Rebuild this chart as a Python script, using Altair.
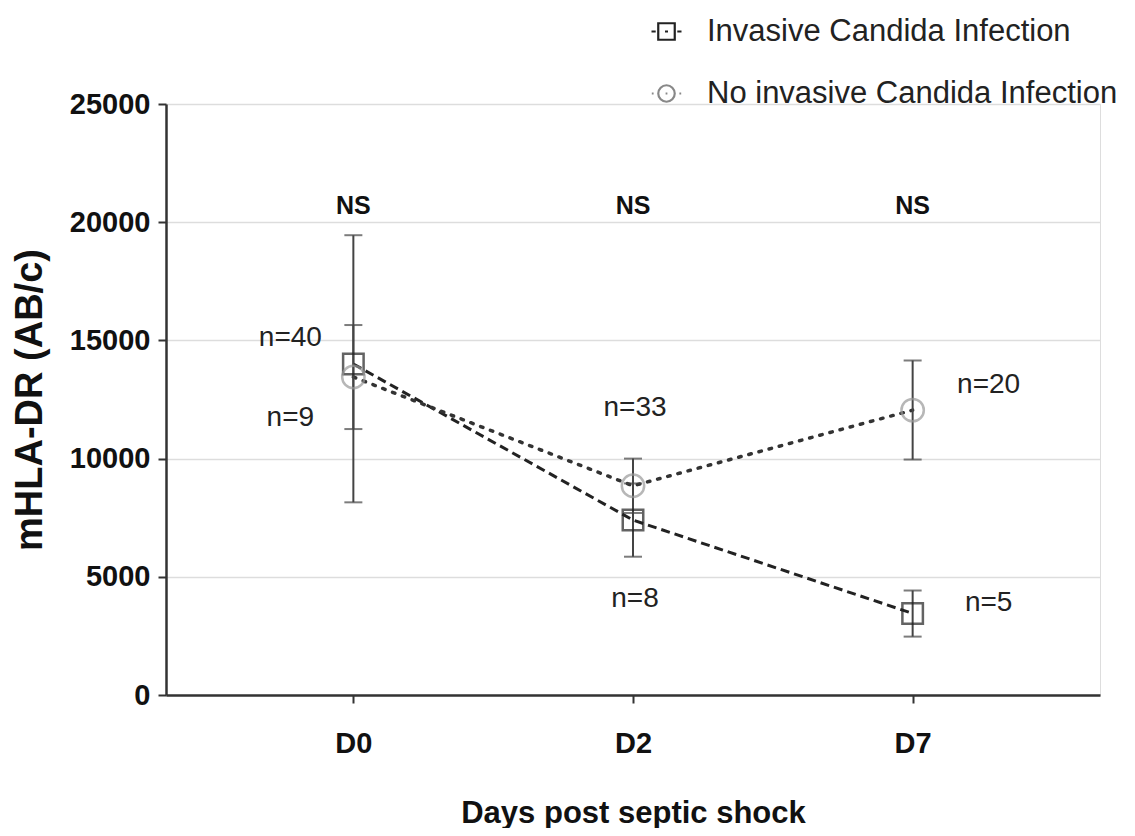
import altair as alt
import pandas as pd

days = ["D0", "D2", "D7"]
series_names = ["Invasive Candida Infection", "No invasive Candida Infection"]

inv_mean = [14000, 7400, 3450]
inv_lo = [8150, 5850, 2470]
inv_hi = [19450, 8950, 4420]

no_mean = [13450, 8850, 12050]
no_lo = [11250, 7700, 9960]
no_hi = [15650, 10000, 14150]

ns_labels = ["NS", "NS", "NS"]
ns_y = [20700, 20700, 20700]

n_left_day = ["D0", "D0"]
n_left_text = ["n=40", "n=9"]
n_left_y = [15100, 11700]
n_mid_day = ["D2", "D2"]
n_mid_text = ["n=33", "n=8"]
n_mid_y = [12150, 4050]
n_right_day = ["D7", "D7"]
n_right_text = ["n=20", "n=5"]
n_right_y = [13100, 3900]

rows = []
for i, d in enumerate(days):
    rows.append({"day": d, "series": series_names[0], "mean": inv_mean[i], "lo": inv_lo[i], "hi": inv_hi[i]})
    rows.append({"day": d, "series": series_names[1], "mean": no_mean[i], "lo": no_lo[i], "hi": no_hi[i]})
df = pd.DataFrame(rows)
inv_df = df[df.series == series_names[0]]
no_df = df[df.series == series_names[1]]

FONT = "Liberation Sans"

x_axis = alt.Axis(
    title="Days post septic shock", labelAngle=0, labelFont=FONT, labelFontSize=29,
    labelFontWeight="bold", labelColor="#111", titleFont=FONT, titleFontSize=31,
    titleFontWeight="bold", titleColor="#111", tickSize=8, tickWidth=2, tickColor="#333",
    domainColor="#333", domainWidth=2.5, labelPadding=26, titlePadding=40, grid=False,
)
x_enc = alt.X("day:N", scale=alt.Scale(type="point", domain=days, padding=0.67), axis=x_axis)

y_scale = alt.Scale(domain=[0, 25000], nice=False)
y_axis = alt.Axis(
    title="mHLA-DR (AB/c)", values=[0, 5000, 10000, 15000, 20000, 25000], format="d",
    labelFont=FONT, labelFontSize=29, labelFontWeight="bold", labelColor="#111",
    titleFont=FONT, titleFontSize=38, titleFontWeight="bold", titleColor="#111",
    tickSize=8, tickWidth=2, tickColor="#333", domainColor="#333", domainWidth=2.5,
    gridColor="#dddddd", gridWidth=1.5, labelPadding=8, titlePadding=20,
)

def Y(field):
    return alt.Y(field, scale=y_scale, axis=y_axis)

base_inv = alt.Chart(inv_df)
base_no = alt.Chart(no_df)

line_inv = base_inv.mark_line(color="#222", strokeDash=[9, 5], strokeWidth=3).encode(x=x_enc, y=Y("mean:Q"))
line_no = base_no.mark_line(color="#333", strokeDash=[2.5, 8], strokeWidth=3.5, strokeCap="round").encode(x=x_enc, y=Y("mean:Q"))

tick_cfg = alt.MarkConfig(size=18, color="#444", strokeWidth=2)
err_inv = base_inv.mark_errorbar(ticks=tick_cfg, color="#444", thickness=2).encode(
    x=x_enc, y=Y("lo:Q"), y2="hi:Q")
err_no = base_no.mark_errorbar(ticks=tick_cfg, color="#444", thickness=2).encode(
    x=x_enc, y=Y("lo:Q"), y2="hi:Q")

pt_inv = base_inv.mark_point(shape="square", size=420, filled=False, color="#222", strokeWidth=2.5).encode(x=x_enc, y=Y("mean:Q"))
pt_no = base_no.mark_point(shape="circle", size=500, filled=False, color="#999", strokeWidth=2.5).encode(x=x_enc, y=Y("mean:Q"))

sq_path = "M-0.55,-0.55H0.55V0.55H-0.55Z M-1,0H-0.72 M0.72,0H1 M-0.1,0H0.1"
ci_path = ("M-0.55,0A0.55,0.55 0 1,0 0.55,0A0.55,0.55 0 1,0 -0.55,0Z "
           "M-0.98,0H-0.86 M0.86,0H0.98 M-0.06,0H0.06")

legend_layer = alt.Chart(df).mark_point(filled=False, size=900, strokeWidth=2.2, opacity=1).encode(
    x=x_enc,
    y=Y("mean:Q"),
    shape=alt.Shape("series:N", scale=alt.Scale(domain=series_names, range=[sq_path, ci_path]), legend=None),
    color=alt.Color(
        "series:N",
        scale=alt.Scale(domain=series_names, range=["#222", "#888"]),
        legend=alt.Legend(
            title=None, orient="none", legendX=484, legendY=-89, labelFont=FONT,
            labelFontSize=31, labelColor="#222", symbolSize=900, symbolStrokeWidth=2.2,
            rowPadding=30, labelOffset=24, labelLimit=0, symbolFillColor="transparent",
        ),
    ),
).transform_filter("false")

ns_df = pd.DataFrame({"day": days, "label": ns_labels, "y": ns_y})
ns_text = alt.Chart(ns_df).mark_text(font=FONT, fontSize=25, fontWeight="bold", color="#111").encode(
    x=x_enc, y=Y("y:Q"), text="label:N")

left_df = pd.DataFrame({"day": n_left_day, "label": n_left_text, "y": n_left_y})
mid_df = pd.DataFrame({"day": n_mid_day, "label": n_mid_text, "y": n_mid_y})
right_df = pd.DataFrame({"day": n_right_day, "label": n_right_text, "y": n_right_y})

def ntext(d, dx):
    return alt.Chart(d).mark_text(font=FONT, fontSize=28, color="#222", dx=dx).encode(
        x=x_enc, y=Y("y:Q"), text="label:N")

chart = alt.layer(
    line_inv, line_no, err_inv, err_no, pt_inv, pt_no, ns_text,
    ntext(left_df, -63), ntext(mid_df, 2), ntext(right_df, 76), legend_layer,
).resolve_scale(shape="independent", color="independent").properties(
    width=934, height=591,
    autosize=alt.AutoSizeParams(type="none"),
    padding={"left": 158, "top": 96, "right": 27, "bottom": 133},
).configure_view(stroke=None).configure(background="white")

chart.save("out.html", embed_options={"renderer": "svg", "actions": False})
